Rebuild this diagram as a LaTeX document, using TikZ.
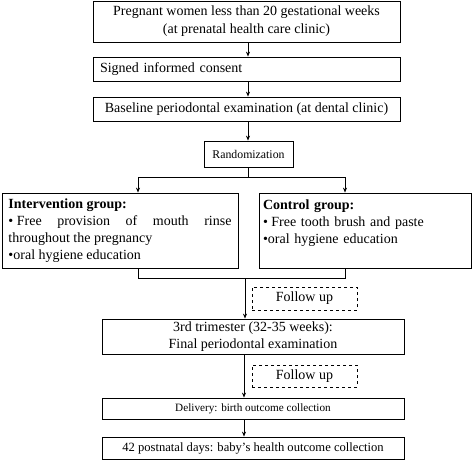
\documentclass[tikz,border=0pt]{standalone}
\usepackage{fontspec}
\setmainfont{Liberation Serif}
\usetikzlibrary{arrows.meta}
\begin{document}
\begin{tikzpicture}[x=1pt,y=1pt,
  box/.style={draw,line width=0.8pt,inner sep=2pt,font=\fontsize{14}{18}\selectfont},
  dbox/.style={draw,dashed,line width=0.7pt,font=\fontsize{14}{17}\selectfont},
  sbox/.style={draw,line width=0.8pt,inner sep=2pt,font=\fontsize{11.2}{13}\selectfont},
  arr/.style={line width=0.8pt,-{Stealth[length=5pt,width=4pt]}},
  ln/.style={line width=0.8pt}]
\useasboundingbox (0,0) rectangle (472,-461);
\node[box,minimum width=307,minimum height=41,align=center] (b1) at (246.5,-21.5)
  {Pregnant women less than 20 gestational weeks\\(at prenatal health care clinic)};
\node[box,minimum width=307,minimum height=24,text width=293,align=left] (b2) at (246.5,-69)
  {Signed informed consent};
\node[box,minimum width=307,minimum height=24,align=center] (b3) at (246.5,-109)
  {Baseline periodontal examination (at dental clinic)};
\node[sbox,minimum width=89,minimum height=26,font=\fontsize{11.8}{14}\selectfont] (rand) at (248.5,-154) {Randomization};
\node[box,minimum width=236,minimum height=75,text width=223,align=justify,font=\fontsize{14}{17}\selectfont] (int) at (120,-230.5)
  {\textbf{Intervention group:}\\•\hspace{3.5pt}Free provision of mouth rinse\linebreak throughout the pregnancy\\•oral hygiene education};
\node[box,minimum width=212,minimum height=75,text width=204,align=left,font=\fontsize{14}{17}\selectfont] (con) at (365,-230.5)
  {\textbf{Control group:}\\•\hspace{3.5pt}Free tooth brush and paste\\•oral hygiene education\\\mbox{}};
\node[dbox,minimum width=105,minimum height=23] (f1) at (304.5,-298.5) {Follow up};
\node[box,minimum width=302,minimum height=35,align=center,inner sep=0pt,font=\fontsize{14}{17}\selectfont] (tri) at (253,-336.5)
  {3rd trimester (32-35 weeks):\\Final periodontal examination};
\node[dbox,minimum width=105,minimum height=22] (f2) at (304.5,-376) {Follow up};
\node[sbox,minimum width=302,minimum height=21] (del) at (253,-408.5) {Delivery: birth outcome collection};
\node[sbox,minimum width=302,minimum height=22,font=\fontsize{12.6}{14}\selectfont] (fin) at (253,-448) {42 postnatal days: baby’s health outcome collection};
\coordinate (ax) at (248,0);
\coordinate (bl) at (138,-177);
\coordinate (br) at (345,-177);
\coordinate (ml) at (138,-278);
\coordinate (mr) at (345,-278);
\coordinate (mx) at (245,-278);
\coordinate (tx) at (244,0);
\draw[arr] (b1.south -| ax) -- (b2.north -| ax);
\draw[arr] (b2.south -| ax) -- (b3.north -| ax);
\draw[arr] (b3.south -| ax) -- (rand.north -| ax);
\draw[ln] (rand.south -| ax) -- (bl -| ax);
\draw[arr] (bl -| ax) -- (bl) -- (int.north -| bl);
\draw[arr] (bl -| ax) -- (br) -- (con.north -| br);
\draw[ln] (int.south -| ml) -- (ml) -- (mr) -- (con.south -| mr);
\draw[arr] (mx) -- (tri.north -| mx);
\draw[arr] (tri.south -| tx) -- (del.north -| tx);
\draw[arr] (del.south -| tx) -- (fin.north -| tx);
\end{tikzpicture}
\end{document}
